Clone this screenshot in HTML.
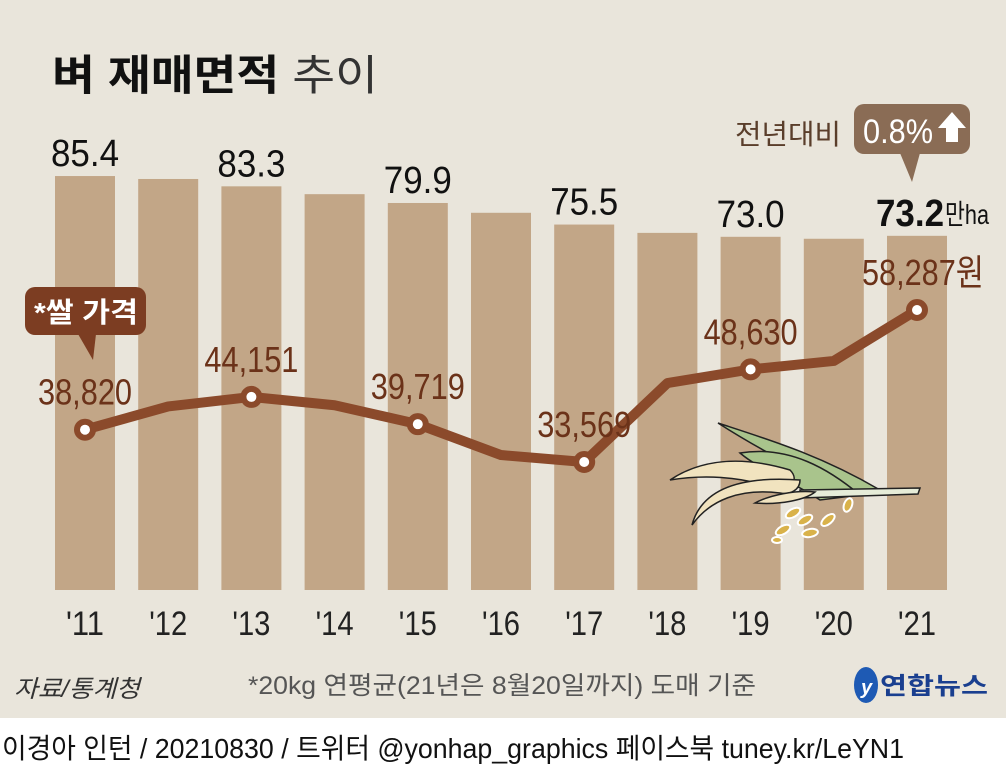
<!DOCTYPE html>
<html><head><meta charset="utf-8">
<style>
html,body{margin:0;padding:0;width:1006px;height:772px;overflow:hidden;background:#fff;font-family:"Liberation Sans","Noto Sans CJK KR",sans-serif;}
svg{display:block}
</style></head>
<body>
<svg id="chart" width="1006" height="772" viewBox="0 0 1006 772" xmlns="http://www.w3.org/2000/svg" font-family="Liberation Sans, Noto Sans CJK KR, sans-serif">
<rect x="0" y="0" width="1006" height="718" fill="#e9e5db"/>
<text x="52" y="90" font-size="42" font-weight="bold" fill="#111" textLength="326" lengthAdjust="spacingAndGlyphs">벼 재매면적 <tspan font-weight="normal" fill="#333">추이</tspan></text>
<g id="bars"></g>
<g id="line"></g>
<g id="labels"></g>
<g>
<text x="735" y="144" font-size="28" fill="#5a3e2b" textLength="106" lengthAdjust="spacingAndGlyphs">전년대비</text>
<rect x="854" y="104" width="116" height="50" rx="10" fill="#8a6c55"/>
<polygon points="900,153 920,153 912,182" fill="#8a6c55"/>
<text x="863" y="143" font-size="34" fill="#fff" textLength="70" lengthAdjust="spacingAndGlyphs">0.8%</text>
<polygon points="952,112 966,128 958,128 958,142 946,142 946,128 938,128" fill="#fff"/>
</g>
<g>
<rect x="25" y="287" width="121" height="48" rx="10" fill="#7c3d22"/>
<polygon points="78,334 96,334 93,360" fill="#7c3d22"/>
<text x="34" y="322" font-size="28" font-weight="bold" fill="#fff" textLength="104" lengthAdjust="spacingAndGlyphs">*쌀 가격</text>
</g>
<g stroke="#222" stroke-width="1.5">
<path d="M718,423 C770,440 820,455 880,490 L850,495 C800,470 760,450 718,423Z" fill="#a9c48c"/>
<path d="M740,453 C790,445 830,470 860,495 L820,500 C790,480 760,470 740,453Z" fill="#a9c48c"/>
<path d="M800,490 L920,488 L918,494 L800,498Z" fill="#e6ecd8"/>
<path d="M670,480 C700,460 740,455 790,470 C800,480 790,490 780,490 C740,475 700,475 670,480Z" fill="#f1e3bf"/>
<path d="M692,525 C700,495 730,475 800,480 C800,490 790,495 780,493 C740,488 710,500 692,525Z" fill="#f1e3bf"/>
<path d="M755,503 C770,495 795,490 815,492 C805,500 780,505 755,503Z" fill="#f1e3bf"/>
<g fill="#d9b24a" stroke="#fff" stroke-width="2">
<ellipse cx="793" cy="513" rx="8" ry="4" transform="rotate(-30 793 513)"/>
<ellipse cx="805" cy="520" rx="8" ry="4" transform="rotate(-30 805 520)"/>
<ellipse cx="783" cy="530" rx="8" ry="4" transform="rotate(-30 783 530)"/>
<ellipse cx="810" cy="533" rx="8" ry="4" transform="rotate(-10 810 533)"/>
<ellipse cx="828" cy="520" rx="8" ry="4" transform="rotate(-40 828 520)"/>
<ellipse cx="848" cy="505" rx="4" ry="7" transform="rotate(20 848 505)"/>
<ellipse cx="777" cy="540" rx="5" ry="3"/>
</g>
</g>
<text x="14" y="697" font-size="24" fill="#333" font-style="italic" textLength="126" lengthAdjust="spacingAndGlyphs">자료/통계청</text>
<text x="248" y="694" font-size="25" fill="#555" textLength="508" lengthAdjust="spacingAndGlyphs">*20kg 연평균(21년은 8월20일까지) 도매 기준</text>
<g>
<ellipse cx="866" cy="685" rx="12" ry="18" fill="#1e5ab4"/>
<text x="861" y="694" font-size="20" fill="#fff" font-style="italic" font-weight="bold">y</text>
<text x="880" y="694" font-size="24" font-weight="bold" fill="#1a3f8f" textLength="108" lengthAdjust="spacingAndGlyphs">연합뉴스</text>
</g>
<text x="2" y="758" font-size="28" fill="#111" textLength="902" lengthAdjust="spacingAndGlyphs">이경아 인턴 / 20210830 / 트위터 @yonhap_graphics  페이스북 tuney.kr/LeYN1</text>
</svg>
<script>
const years = ["'11","'12","'13","'14","'15","'16","'17","'18","'19","'20","'21"];
const areaValues = [85.4,84.8,83.3,81.7,79.9,77.9,75.5,73.8,73.0,72.6,73.2];
const areaLabels = ["85.4","","83.3","","79.9","","75.5","","73.0","","73.2"];
const priceValues = [38820,42600,44151,42800,39719,34700,33569,46400,48630,50000,58287];
const priceLabels = ["38,820","","44,151","","39,719","","33,569","","48,630","","58,287"];
const NS="http://www.w3.org/2000/svg";
function xPos(i){return 85+i*83.2;}
function yArea(v){return 594.5-v*4.9;}
function yPrice(v){return 462-(v-33569)*0.00615;}
function mk(tag,attrs,parent){const e=document.createElementNS(NS,tag);for(const k in attrs)e.setAttribute(k,attrs[k]);parent.appendChild(e);return e;}
const gb=document.getElementById('bars'),gl=document.getElementById('line'),gt=document.getElementById('labels');
areaValues.forEach((v,i)=>{
  const y=yArea(v);
  const r=mk('rect',{x:xPos(i)-30,y:y,width:60,height:590-y,fill:'#c2a687'},gb);
  
  
  const t=mk('text',{x:xPos(i),y:635,'font-size':34,fill:'#222','text-anchor':'middle',textLength:38,lengthAdjust:'spacingAndGlyphs'},gt);
  
  
  t.textContent=years[i];
  if(areaLabels[i]){
    const a=mk('text',{x:xPos(i),y:y-10,'font-size':38,fill:'#111','text-anchor':'middle',textLength:68,lengthAdjust:'spacingAndGlyphs'},gt);
    
    
    a.textContent=areaLabels[i];
    if(i===10){a.setAttribute('font-weight','bold');a.setAttribute('x',xPos(i)-7);
      const u=mk('text',{x:xPos(i)+28,y:y-12,'font-size':28,fill:'#111',textLength:44,lengthAdjust:'spacingAndGlyphs'},gt);
      
      
      u.textContent='만ha';}
  }
});
const pts=priceValues.map((v,i)=>xPos(i)+','+yPrice(v)).join(' ');
const pl=mk('polyline',{points:pts,fill:'none',stroke:'#8b4a2b','stroke-width':10,'stroke-linejoin':'round'},gl);


priceValues.forEach((v,i)=>{
  if(!priceLabels[i])return;
  const c=mk('circle',{cx:xPos(i),cy:yPrice(v),r:8,fill:'#fff',stroke:'#8b4a2b','stroke-width':6},gl);
  
  
  const t=mk('text',{x:xPos(i),y:yPrice(v)-25,'font-size':36,fill:'#6b3219','text-anchor':'middle',textLength:(i===10?122:94),lengthAdjust:'spacingAndGlyphs'},gt);
  
  
  t.textContent=priceLabels[i]+(i===10?'원':'');
  if(i===10)t.setAttribute('x',xPos(i)+6);
});
</script>
</body></html>
